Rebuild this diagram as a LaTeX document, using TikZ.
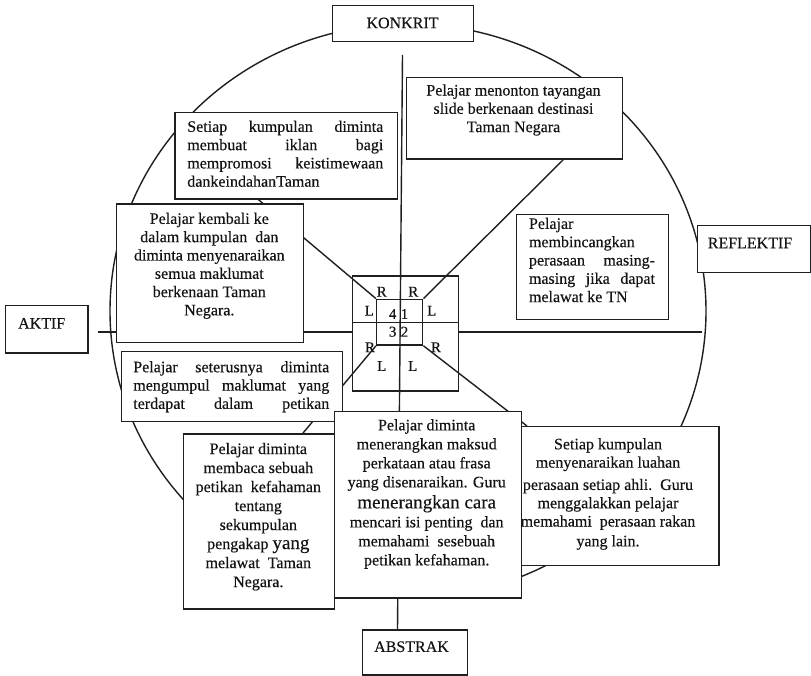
\documentclass[tikz,border=0pt]{standalone}
\usepackage{fontspec}
\setmainfont{Liberation Serif}[FakeBold=0.35]
\begin{document}
\begin{tikzpicture}[x=1pt,y=-1pt,
  ln/.style={line width=1.4pt, draw=black!88},
  box/.style={draw=black!88, line width=1.4pt, fill=white, inner sep=0pt, anchor=north west},
  sq/.style={draw=black!88, line width=1.4pt, inner sep=0pt},
  txt/.style={inner sep=0pt, text=black!92, font=\fontsize{16}{18.3}\selectfont},
  lab/.style={inner sep=0pt, text=black!92, font=\fontsize{15}{15}\selectfont}]
\useasboundingbox[fill=white] (0,0) rectangle (811,676);

% circle
\draw[ln] (408,311) ellipse [x radius=298pt, y radius=287pt];

% centre squares
\node[sq, minimum width=105.6pt, minimum height=115pt] (outer) at (405.5,333.5) {};
\node[sq, minimum width=46pt, minimum height=45.7pt] (inner) at (399.7,322.2) {};

% free ends of the axes
\coordinate (vtop) at (402.5,55);
\coordinate (vbot) at (397.5,629.3);
\coordinate (hl) at (98,332);
\coordinate (hr) at (701.7,332);

% axes
\draw[ln] (vtop) -- (vbot);
\draw[ln] (outer.west |- inner.center) -- (outer.east |- inner.center);
\draw[ln] (hl) -- (outer.west |- hl);
\draw[ln] (outer.east |- hl) -- (hr);

% boxes
\node[box, minimum width=141pt, minimum height=36pt] (konkrit) at (332,5) {};
\node[box, minimum width=82.3pt, minimum height=47.3pt] (aktif) at (5,305) {};
\node[box, minimum width=113.3pt, minimum height=46.7pt] (reflektif) at (696.7,225) {};
\node[box, minimum width=105pt, minimum height=45pt] (abstrak) at (361.7,629.3) {};
\node[box, minimum width=222.4pt, minimum height=86.6pt] (iklan) at (174.3,111.7) {};
\node[box, minimum width=215.7pt, minimum height=81.6pt] (menonton) at (406,76.7) {};
\node[box, minimum width=152pt, minimum height=104.5pt] (bincang) at (516,214) {};
\node[box, minimum width=151.3pt, minimum height=175pt] (membaca) at (182.7,433.3) {};
\node[box, minimum width=199pt, minimum height=139pt] (luahan) at (519.3,426) {};

% diagonals
\draw[ln] ([xshift=84.2pt]iklan.south west) -- (inner.north west);
\draw[ln] ([xshift=157.3pt]menonton.south west) -- (inner.north east);
\draw[ln] ([xshift=120.1pt]membaca.north west) -- (inner.south west);
\draw[ln] (inner.south east) -- ([xshift=7.7pt]luahan.north west);

% boxes drawn over the lines
\node[box, minimum width=186.7pt, minimum height=138.4pt] (kembali) at (116,203.3) {};
\node[box, minimum width=221pt, minimum height=70pt] (terus) at (120.7,350.7) {};
\node[box, minimum width=186.7pt, minimum height=186.6pt] (terang) at (334,410.7) {};

% labels in the squares
\node[lab] (r1) at (381.7,291.7) {R};
\node[lab] (r2) at (413.3,291.7) {R};
\node[lab] (l1) at (369.3,310.7) {L};
\node[lab] (l2) at (431.7,310.7) {L};
\node[lab] (n4) at (392.7,314) {4};
\node[lab] (n1) at (404.5,314) {1};
\node[lab] (n3) at (392.7,331.7) {3};
\node[lab] (n2) at (404.5,331.7) {2};
\node[lab] (r3) at (370,347.3) {R};
\node[lab] (r4) at (436,347.3) {R};
\node[lab] (l3) at (381.7,366) {L};
\node[lab] (l4) at (412.7,366) {L};

% axis labels
\node[txt] (konkritt) at (402.5,23) {KONKRIT};
\node[txt] (aktift) at (41.7,323.3) {AKTIF};
\node[txt] (reflektift) at (750,243) {REFLEKTIF};
\node[txt] (abstrakt) at (411.5,646.7) {ABSTRAK};

% box texts
\node[txt, align=left] (iklant) at (285.3,153.8) {\makebox[196pt][s]{Setiap kumpulan diminta}\\ \makebox[196pt][s]{membuat iklan bagi}\\ \makebox[196pt][s]{mempromosi keistimewaan}\\ dankeindahanTaman};
\node[txt, align=center] (menontont) at (513.5,110) {Pelajar menonton tayangan\\ slide berkenaan destinasi\\ Taman Negara};
\node[txt, align=center] (kembalit) at (209.3,265.8) {Pelajar kembali ke\\ dalam kumpulan\ \ dan\\ diminta menyenaraikan\\ semua maklumat\\ berkenaan Taman\\ Negara.};
\node[txt, align=left] (bincangt) at (592,260) {Pelajar\\ membincangkan\\ \makebox[126pt][s]{perasaan masing-}\\ \makebox[126pt][s]{masing jika dapat}\\ melawat ke TN};
\node[txt, align=left] (terust) at (231.3,386.7) {\makebox[196pt][s]{Pelajar seterusnya diminta}\\ \makebox[196pt][s]{mengumpul maklumat yang}\\ \makebox[196pt][s]{terdapat dalam petikan}};
\node[txt, align=center, font=\fontsize{16}{19}\selectfont] (membacat) at (258.3,516.7) {Pelajar diminta\\ membaca sebuah\\ petikan\ \ kefahaman\\ tentang\\ sekumpulan\\ pengakap {\fontsize{19}{19}\selectfont yang}\\ melawat\ \ Taman\\ Negara.};
\node[txt, align=center, font=\fontsize{16}{19}\selectfont] (terangt) at (426.7,494) {Pelajar diminta\\ menerangkan maksud\\ perkataan atau frasa\\ yang disenaraikan. Guru\\[2pt] {\fontsize{19}{19}\selectfont menerangkan cara}\\ mencari isi penting\ \ dan\\ memahami\ \ sesebuah\\ petikan kefahaman.};
\node[txt, align=center] (luahant) at (608,494) {Setiap kumpulan\\ menyenaraikan luahan\\[4pt] perasaan setiap ahli.\ \ Guru\\ menggalakkan pelajar\\ memahami\ \ perasaan rakan\\[1.5pt] yang lain.};
\end{tikzpicture}
\end{document}
